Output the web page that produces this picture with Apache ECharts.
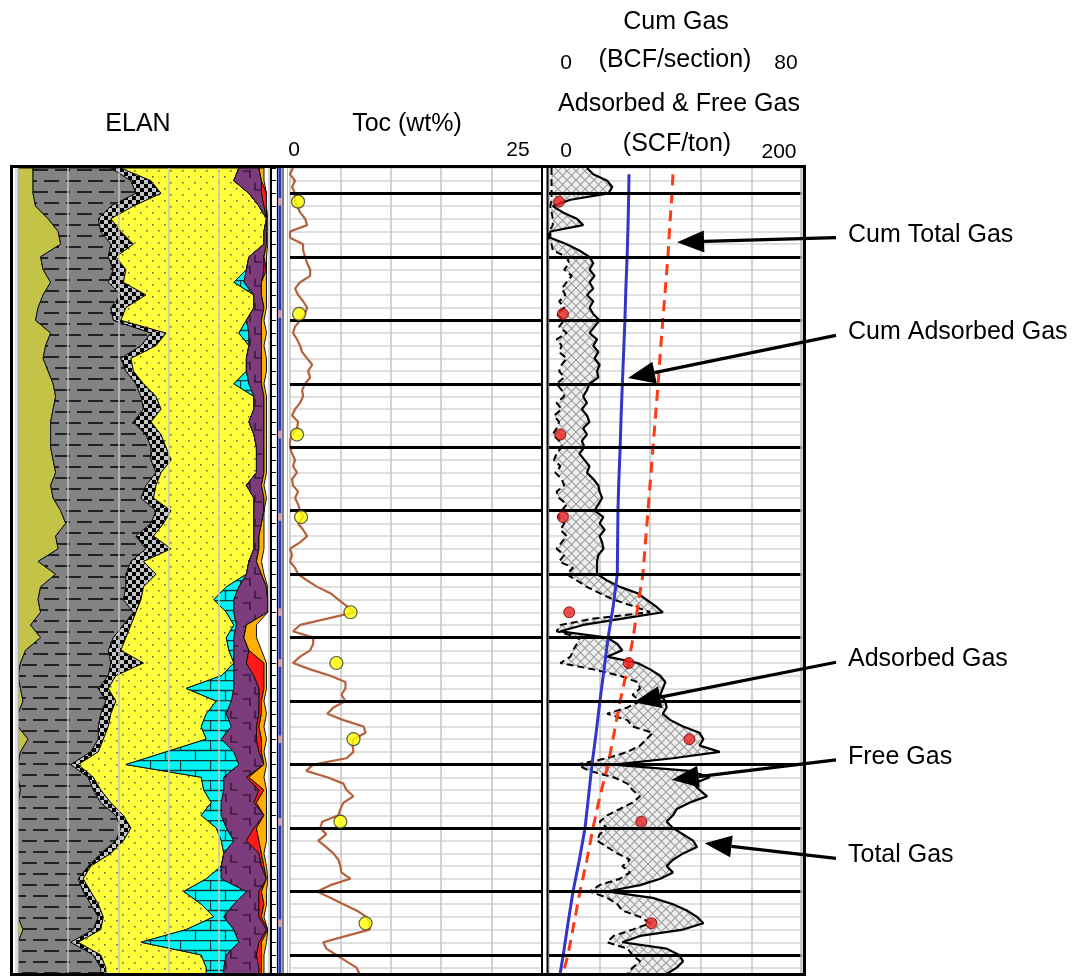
<!DOCTYPE html>
<html><head><meta charset="utf-8">
<script src="https://cdn.jsdelivr.net/npm/echarts@6/dist/echarts.min.js"></script>
<style>html,body{margin:0;padding:0;background:#fff}#c{width:1075px;height:978px}</style>
</head><body><div id="c"></div>
<script>
// ================= DATA =================
// ELAN track: depth samples (arbitrary depth units, 10 units per major line)
const elanDepth = [-4,-2,0,2,4,6,8,10,12,14,16,18,20,22,24,26,28,30,32,34,36,38,40,42,44,46,48,50,52,54,56,58,60,62,64,66,68,70,72,74,76,78,80,82,84,86,88,90,92,94,96,98,100,102,104,106,108,110,112,114,116,118,120,122,124];
// cumulative volume (%) at right edge of each mineral layer
const elanOlive = [6,6,6,7,12,16,17,9,10,13, 10,8,7,13,11,10,12,14,15,14, 13,13,13,14,15,13,14,17,19,15, 16,8,15,9,8,9,5,9,3,1, 0,1,2,0,0,4,1,0,0,1, 0,0,0,0,0,0,0,0,0,0, 2,0,0,0,0];
const elanShale = [37,45,47,37,32,33,37,36,38,36, 41,37,38,53,49,41,43,47,49,50, 46,51,53,53,55,51,49,55,53,47, 51,45,43,43,42,46,42,38,36,37, 36,32,35,33,32,32,29,21,28,30, 33,39,41,39,33,28,24,26,29,32, 30,21,30,33,33];
const elanSilt = [41,53,57,46,37,41,46,39,43,42, 51,43,41,59,55,45,46,50,55,57, 53,57,59,61,57,55,54,61,58,54, 61,50,55,50,49,47,45,43,41,50, 39,36,39,37,36,34,32,24,30,33, 37,42,45,42,37,29,26,29,32,34, 33,24,33,35,35];
const elanSand = [88,86,92,96,99,98,98,92,91,86, 94,94,91,88,92,91,91,86,94,94, 92,94,95,95,95,91,94,94,94,94, 94,92,91,83,78,83,86,83,84,86, 81,67,79,75,73,75,59,43,73,74, 77,73,79,81,82,81,75,66,73,78, 67,49,73,75,75];
const elanCalcite = [88,86,92,96,99,98,98,92,91,90, 94,94,91,92,92,91,91,92,94,94, 92,94,95,95,95,91,94,94,94,94, 94,92,91,88,86,86,87,86,86,86, 86,86,85,83,85,81,86,88,82,82, 81,81,83,86,82,81,81,91,86,82, 86,88,83,82,82];
const elanDolomite = [96,97,97,98,99,99,99,98,98,97, 97,98,97,97,97,97,97,97,98,98, 98,98,98,98,98,97,98,98,97,96, 96,95,97,99,99.5,99.5,91,90,92,91, 94,96,96,96,95,95,96,98,91,96, 94,98,94,91,96,97,99,96,96,96, 99,96,95,96,96];
const elanPyrite = [96,97,99,99,99,99,99,98,99,97, 97,98,97,97,97,97,97,97,98,98, 98,98,98,98,98,97,98,98,97,96, 96,95,97,99,99.5,99.5,91,90,92,98, 98,98,97,97,96,97,97,98,92,98, 95,98,95,96,97,98,99,97,98,97, 99.5,97,97,97,97];
const elanKerogen = [98,98,99,99,99.5,99.5,99.5,99,99,99, 99,99,98,99,98,99,99,98,99,99, 99,99,99,99,99,98,99,98,98,98, 98,97,98,99.5,99.5,99.5,95,95,97,99, 99,99,98,99,98,99,98,99,98,99, 99,99,99,99,98,99,99.5,99,99,98, 99.5,99,98,98,98];

// Continuous logs (1 depth unit steps)
const logDepth = [-4,-3,-2,-1,0,1,2,3,4,5,6,7,8,9,10,11,12,13,14,15,16,17,18,19,20,21,22,23,24,25,26,27,28,29,30,31,32,33,34,35,36,37,38,39,40,41,42,43,44,45,46,47,48,49,50,51,52,53,54,55,56,57,58,59,60,61,62,63,64,65,66,67,68,69,70,71,72,73,74,75,76,77,78,79,80,81,82,83,84,85,86,87,88,89,90,91,92,93,94,95,96,97,98,99,100,101,102,103,104,105,106,107,108,109,110,111,112,113,114,115,116,117,118,119,120,121,122,123];
const tocLog = [0.3,0,0.5,0.2,0.5,0.5,0.7,1.0,1.5,1.7, 0,0,1.3,1.3,1.5,1.7,2.0,2.0,1.0,0.5, 0.8,1.3,1.7,1.5,1.0,0.5,0.3,0.7,1.0,1.2, 1.7,2.2,1.8,2.0,1.5,1.2,1.3,1.0,0.5,0.2, 0.8,0.7,0.2,0,0,0.2,0.5,0.3,0.7,0.2, 0.3,0.8,0.5,0.8,1.0,1.3,0.8,1.3,1.7,1.0, 0,0.2,0,0.5,0.8,1.7,2.7,4.0,4.8,5.6, 6.4,3.7,1.0,0.3,2.3,2.3,2.0,1.0,0.3,2.0, 4.0,5.5,5.5,5.1,5.5,4.3,3.7,5.3,7.3,7.5, 6.3,6.2,6.3,5.6,2.3,1.6,3.7,5.3,5.6,6.3, 5.3,5.0,4.8,3.2,3.0,3.6,2.8,3.6,4.3,4.8, 5.0,5.1,6.0,4.0,2.7,4.0,5.3,6.6,7.6,7.9, 7.9,5.6,3.3,3.6,4.6,5.6,6.6,6.9];
const gasTotal = [30,35,46,50,47,17,3,11,22,27, 1,1,14,24,32,35,32,36,32,35, 30,35,32,35,40,36,32,38,35,39, 36,40,38,39,32,30,27,30,26,30, 32,27,30,26,28,24,28,32,30,35, 39,40,42,39,36,43,40,44,40,42, 43,39,38,38,38,46,56,70,77,84, 90,58,27,9,46,54,58,46,70,80, 88,92,90,88,92,93,90,96,106,119, 122,119,135,98,51,111,127,114,119,125, 111,101,98,93,98,106,114,117,106,98, 93,98,88,72,46,82,98,109,117,122, 106,72,58,93,103,106,101,93];
const gasAdsorbed = [2,2,2,2,2,2,1,2,3,3, 0,0,2,3,14,16,12,18,14,10, 13,8,12,6,12,8,14,6,10,8, 14,10,8,12,6,10,12,6,10,4, 8,6,3,8,10,6,4,9,5,10, 12,6,8,14,10,7,12,9,14,10, 6,12,8,19,14,22,30,40,51,66, 80,35,9,6,24,22,19,17,9,35, 56,70,72,66,72,62,46,62,66,82, 77,72,62,46,22,32,51,62,66,72, 66,56,46,40,46,40,38,46,54,64, 58,64,56,40,32,46,54,58,72,80, 66,51,46,62,66,72,66,62];

// Cumulative gas (BCF/section)
const cumDepth = [-3,0,5,10,15,20,25,30,35,40,45,50,55,60,65,70,75,80,85,90,95,100,105,110,115,120,123];
const cumAdsorbed = [25.3,25.2,25.0,24.7,24.3,24.0,23.6,23.2,22.8,22.5,22.1,21.8,21.7,21.6,20.3,18.7,17.4,16.1,14.9,13.6,12.5,11.4,9.6,7.6,6.0,4.5,3.5];
const cumTotal = [39.2,38.9,38.2,37.6,36.8,36.0,35.2,34.5,33.7,32.9,32.1,31.3,30.5,29.7,28.1,26.6,24.7,22.5,20.6,18.7,16.1,13.9,12.0,9.8,7.9,6.0,4.4];

// Core samples
const coreDepth = [1.3,19,38,51,66,74,86,99,115];
const coreToc = [0.8,0.9,0.7,1.1,6.0,4.6,6.3,5.0,7.5];
const coreGas = [8,11,9,11,16,63,111,73,81];

// Depth-track reference curve
const refDepth = [-4,123];
const refCurve = [0.53,0.53];

// Major depth lines
const majorDepths = [0,10,20,30,40,50,60,70,80,90,100,110,120];

// Annotations
const annoLabels = ['Cum Total Gas','Cum Adsorbed Gas','Adsorbed Gas','Free Gas','Total Gas'];
const annoAxis = ['cum','cum','gas','gas','gas'];
const annoTipValue = [40.5,25.0,67,97,123];
const annoTipDepth = [7.7,29.1,80.2,92.4,102.4];
const annoTextDepth = [6.5,21.9,73.4,88.8,104.3];

// ================= PATTERNS =================
function pat(w,h,draw){const c=document.createElement('canvas');c.width=w;c.height=h;const g=c.getContext('2d');draw(g,w,h);return {image:c,repeat:'repeat'};}
const grayPat = pat(44,22,(g,w,h)=>{g.fillStyle='#838383';g.fillRect(0,0,w,h);g.fillStyle='#222';
  g.fillRect(0,4,15,2);g.fillRect(22,4,15,2);g.fillRect(11,15,15,2);g.fillRect(33,15,11,2);g.fillRect(0,15,4,2);});
const checkPat = pat(8,8,(g)=>{g.fillStyle='#c4c4c4';g.fillRect(0,0,8,8);g.fillStyle='#000';g.fillRect(0,0,4,4);g.fillRect(4,4,4,4);});
const sandPat = pat(12,12,(g)=>{g.fillStyle='#ffff3c';g.fillRect(0,0,12,12);g.fillStyle='#6a6a30';g.fillRect(2,2,1.6,1.6);g.fillRect(8,8,1.6,1.6);});
const limePat = pat(30,20,(g)=>{g.fillStyle='#00f4f4';g.fillRect(0,0,30,20);g.strokeStyle='#0b3a3a';g.lineWidth=1.3;g.beginPath();
  g.moveTo(0,0.5);g.lineTo(30,0.5);g.moveTo(0,10.5);g.lineTo(30,10.5);g.moveTo(0.5,0);g.lineTo(0.5,10);g.moveTo(15.5,10);g.lineTo(15.5,20);g.stroke();});
const dolPat = pat(24,24,(g)=>{g.fillStyle='#7c3c7c';g.fillRect(0,0,24,24);g.strokeStyle='#3e1a3e';g.lineWidth=1.6;g.beginPath();
  g.moveTo(3,3);g.lineTo(10,3);g.lineTo(10,10);g.moveTo(15,15);g.lineTo(15,22);g.lineTo(22,22);g.stroke();});
const hatchPat = pat(9,9,(g)=>{g.fillStyle='#eeeeee';g.fillRect(0,0,9,9);g.strokeStyle='#9c9c9c';g.lineWidth=1.1;g.beginPath();
  g.moveTo(0,0);g.lineTo(9,9);g.moveTo(9,0);g.lineTo(0,9);g.stroke();});

const elanBounds = [elanOlive, elanShale, elanSilt, elanSand, elanCalcite, elanDolomite, elanPyrite, elanKerogen];
const elanFills = ['#c3c347', grayPat, checkPat, sandPat, limePat, dolPat, '#ff1a1a', '#ffb000'];

// ================= CHART =================
const chart = echarts.init(document.getElementById('c'));
const TOP = 168, H = 806;
const yBase = {type:'value', inverse:true, min:-4, max:123, interval:2,
  axisLabel:{show:false}, axisTick:{show:false}, axisLine:{show:false}};
const minor = {show:true, lineStyle:{color:'#d4d4d4', width:1.5}};
const vgrid = {show:true, lineStyle:{color:'#c4c4c4', width:1.5}};
const xBase = {type:'value', axisLabel:{show:false}, axisTick:{show:false}, axisLine:{show:false}};
const majorLine = {silent:true, symbol:['none','none'], label:{show:false},
  lineStyle:{color:'#000', width:3, type:'solid'}, data: majorDepths.map(v=>({yAxis:v}))};

chart.setOption({
  animation:false,
  backgroundColor:'#fff',
  grid:[
    {left:18, top:TOP, width:251, height:H},
    {left:272, top:TOP, width:15, height:H},
    {left:290, top:TOP, width:252, height:H},
    {left:549, top:TOP, width:253, height:H}
  ],
  xAxis:[
    Object.assign({}, xBase, {gridIndex:0, min:0, max:100, interval:20, z:10, splitLine:vgrid}),
    Object.assign({}, xBase, {gridIndex:1, min:0, max:1, splitLine:{show:false}}),
    Object.assign({}, xBase, {gridIndex:2, min:0, max:25, interval:5, splitLine:vgrid}),
    Object.assign({}, xBase, {gridIndex:3, min:0, max:200, interval:40, splitLine:vgrid}),
    Object.assign({}, xBase, {gridIndex:3, min:0, max:80, splitLine:{show:false}})
  ],
  yAxis:[
    Object.assign({}, yBase, {gridIndex:0, splitLine:{show:false}}),
    Object.assign({}, yBase, {gridIndex:1, splitLine:{show:false},
      axisTick:{show:true, inside:true, length:4, lineStyle:{color:'#000', width:1}}}),
    Object.assign({}, yBase, {gridIndex:2, splitLine:minor}),
    Object.assign({}, yBase, {gridIndex:3, splitLine:minor})
  ],
  series:[
    {type:'custom', xAxisIndex:0, yAxisIndex:0, clip:true, z:2,
      data: elanBounds.map((b,i)=>[i*10, 0]),
      renderItem:(params, api)=>{
        const i = params.dataIndex, right = elanBounds[i], left = i ? elanBounds[i-1] : null;
        const pts = [];
        for (let k=0;k<elanDepth.length;k++) pts.push(api.coord([right[k], elanDepth[k]]));
        for (let k=elanDepth.length-1;k>=0;k--) pts.push(api.coord([left ? left[k] : 0, elanDepth[k]]));
        return {type:'polygon', shape:{points:pts}, style:{fill:elanFills[i], stroke:'#111', lineWidth:1}};
      }},
    {type:'line', xAxisIndex:1, yAxisIndex:1, showSymbol:false, z:3,
      data: refDepth.map((d,k)=>[refCurve[k], d]), lineStyle:{color:'#2036c0', width:3}},
    {type:'scatter', xAxisIndex:1, yAxisIndex:1, z:4, symbol:'circle', symbolSize:[5,8],
      data: coreDepth.map(d=>[refCurve[0], d]), itemStyle:{color:'#f5b3c0'}},
    {type:'line', xAxisIndex:2, yAxisIndex:2, showSymbol:false, z:3,
      data: logDepth.map((d,k)=>[tocLog[k], d]), lineStyle:{color:'#b4623c', width:2.2},
      markLine: majorLine},
    {type:'scatter', xAxisIndex:2, yAxisIndex:2, z:5, symbolSize:13,
      data: coreDepth.map((d,k)=>[coreToc[k], d]),
      itemStyle:{color:'#ffff00', borderColor:'#333', borderWidth:1.2}},
    {type:'custom', xAxisIndex:3, yAxisIndex:3, clip:true, z:1, data:[[0,0]],
      renderItem:(params, api)=>{
        const pts = [];
        for (let k=0;k<logDepth.length;k++) pts.push(api.coord([gasTotal[k], logDepth[k]]));
        for (let k=logDepth.length-1;k>=0;k--) pts.push(api.coord([gasAdsorbed[k], logDepth[k]]));
        return {type:'polygon', shape:{points:pts}, style:{fill:hatchPat}};
      }},
    {type:'line', name:'Adsorbed Gas', xAxisIndex:3, yAxisIndex:3, showSymbol:false, z:3,
      data: logDepth.map((d,k)=>[gasAdsorbed[k], d]), lineStyle:{color:'#000', width:2, type:[7,4]}},
    {type:'line', name:'Total Gas', xAxisIndex:3, yAxisIndex:3, showSymbol:false, z:3,
      data: logDepth.map((d,k)=>[gasTotal[k], d]), lineStyle:{color:'#000', width:2.2},
      markLine: majorLine},
    {type:'line', name:'Cum Adsorbed Gas', xAxisIndex:4, yAxisIndex:3, showSymbol:false, z:4,
      data: cumDepth.map((d,k)=>[cumAdsorbed[k], d]), lineStyle:{color:'#3434c8', width:3}},
    {type:'line', name:'Cum Total Gas', xAxisIndex:4, yAxisIndex:3, showSymbol:false, z:4,
      data: cumDepth.map((d,k)=>[cumTotal[k], d]), lineStyle:{color:'#ff3a14', width:3, type:[11,7]}},
    {type:'scatter', xAxisIndex:3, yAxisIndex:3, z:6, symbolSize:11,
      data: coreDepth.map((d,k)=>[coreGas[k], d]),
      itemStyle:{color:'#ee2222', borderColor:'#6a0000', borderWidth:1}}
  ]
});

// ================= FRAME, HEADERS, ANNOTATIONS =================
const FONT = '"Liberation Sans", Arial, sans-serif';
function txt(x,y,s,size,align){return {type:'text', x:x, y:y, z:100, silent:true,
  style:{text:s, font:size+'px '+FONT, fill:'#000', align:align||'center', verticalAlign:'middle'}};}
function vline(x,color,w){return {type:'line', z:50, silent:true, shape:{x1:x,y1:TOP,x2:x,y2:TOP+H}, style:{stroke:color, lineWidth:w}};}

const g = [
  {type:'rect', z:60, silent:true, shape:{x:11.5,y:166.5,width:793,height:808}, style:{fill:null, stroke:'#000', lineWidth:3}},
  vline(16,'#bdbdbd',1),
  vline(271,'#000',2), vline(277.5,'#000',1.2), vline(283,'#000',1), vline(287.5,'#bdbdbd',1),
  vline(542,'#000',2), vline(547.5,'#000',2), vline(801,'#bdbdbd',1.5),
  txt(138,124,'ELAN',25),
  txt(407,124,'Toc (wt%)',25),
  txt(294,150,'0',21), txt(518,150,'25',21),
  txt(676,22,'Cum Gas',25),
  txt(675,60,'(BCF/section)',25),
  txt(566,63,'0',21), txt(786,63,'80',21),
  txt(679,104,'Adsorbed & Free Gas',25),
  txt(677,144,'(SCF/ton)',25),
  txt(566,151,'0',21), txt(779,152,'200',21)
];

annoLabels.forEach((label,i)=>{
  const finder = annoAxis[i]==='cum' ? {xAxisIndex:4, yAxisIndex:3} : {xAxisIndex:3, yAxisIndex:3};
  const tip = chart.convertToPixel(finder, [annoTipValue[i], annoTipDepth[i]]);
  const ty = chart.convertToPixel({xAxisIndex:3, yAxisIndex:3}, [0, annoTextDepth[i]])[1];
  const sx = 836, sy = ty + 3;
  const dx = tip[0]-sx, dy = tip[1]-sy, len = Math.hypot(dx,dy);
  const ux = dx/len, uy = dy/len, L = 27, W = 11;
  const bx = tip[0]-ux*L, by = tip[1]-uy*L;
  g.push({type:'line', z:70, silent:true, shape:{x1:sx,y1:sy,x2:bx,y2:by}, style:{stroke:'#000', lineWidth:3.2}});
  g.push({type:'polygon', z:70, silent:true, shape:{points:[[tip[0],tip[1]],[bx-uy*W,by+ux*W],[bx+uy*W,by-ux*W]]}, style:{fill:'#000'}});
  g.push(txt(848, ty, label, 25, 'left'));
});
chart.setOption({graphic: g});
</script>
</body></html>
